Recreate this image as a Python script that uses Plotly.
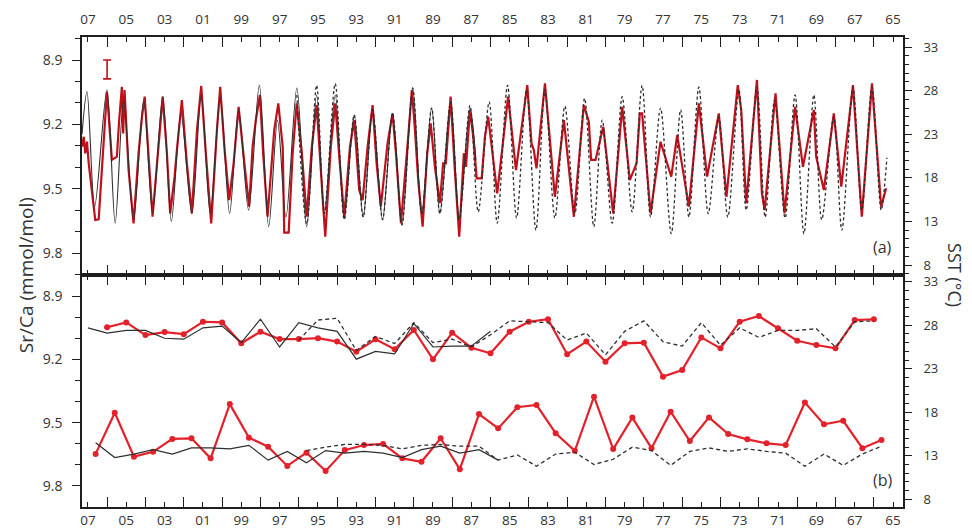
import plotly.graph_objects as go

# ---------------- data: panel (a), monthly-resolution turning points ----------------
red_top_year = [2007.31, 2007.22, 2007.14, 2007.05, 2006.96, 2006.62, 2006.44, 2006.01, 2005.75, 2005.49,
                2005.37, 2005.23, 2005.16, 2005.09, 2004.88, 2004.62, 2004.36, 2004.18, 2004.04, 2003.83,
                2003.63, 2003.10, 2002.88, 2002.71, 2002.48, 2002.36, 2002.10, 2001.84, 2001.58, 2001.31,
                2001.09, 2000.85, 2000.57, 2000.27, 2000.10, 1999.87, 1999.63, 1999.40, 1999.14, 1998.83,
                1998.59, 1998.41, 1998.24, 1998.03, 1997.86, 1997.63, 1997.28, 1997.07, 1996.84, 1996.76,
                1996.53, 1996.32, 1996.11, 1995.84, 1995.59, 1995.32, 1995.07, 1994.85, 1994.62, 1994.33,
                1994.10, 1993.86, 1993.63, 1993.33, 1993.11, 1992.85, 1992.67, 1992.41, 1992.15, 1991.94,
                1991.72, 1991.37, 1991.11, 1990.93, 1990.67, 1990.32, 1990.10, 1989.94, 1989.77, 1989.54,
                1989.30, 1989.12, 1988.90, 1988.64, 1988.47, 1988.33, 1988.08, 1987.86, 1987.63, 1987.39,
                1987.28, 1987.07, 1986.90, 1986.72, 1986.46, 1986.29, 1986.12, 1985.65, 1985.08, 1984.67,
                1984.08, 1983.86, 1983.74, 1983.60, 1983.16, 1982.64, 1982.17, 1981.65, 1981.13, 1980.87,
                1980.75, 1980.52, 1980.12, 1979.60, 1979.13, 1978.73, 1978.38, 1978.21, 1978.09, 1977.65,
                1977.13, 1976.57, 1976.26, 1975.65, 1975.13, 1974.70, 1974.09, 1973.69, 1973.10, 1972.92,
                1972.66, 1972.10, 1971.84, 1971.70, 1971.13, 1970.66, 1970.11, 1969.70, 1969.13, 1969.01,
                1968.61, 1968.09, 1967.70, 1967.09, 1966.63, 1966.10, 1965.62, 1965.36]
red_top_srca = [9.304, 9.258, 9.335, 9.281, 9.382, 9.646, 9.643, 9.048, 9.366, 9.351,
                9.180, 9.025, 9.242, 9.040, 9.413, 9.662, 9.335, 9.164, 9.071, 9.351,
                9.631, 9.071, 9.335, 9.615, 9.444, 9.320, 9.087, 9.382, 9.615, 9.226,
                9.021, 9.335, 9.662, 9.226, 9.025, 9.320, 9.553, 9.382, 9.118, 9.390,
                9.584, 9.304, 9.180, 9.063, 9.335, 9.631, 9.226, 9.102, 9.304, 9.705,
                9.705, 9.335, 9.102, 9.335, 9.631, 9.304, 9.110, 9.413, 9.724, 9.304,
                9.102, 9.382, 9.631, 9.304, 9.180, 9.506, 9.553, 9.304, 9.110, 9.382,
                9.584, 9.289, 9.149, 9.335, 9.662, 9.289, 9.040, 9.226, 9.460, 9.677,
                9.335, 9.195, 9.398, 9.568, 9.382, 9.382, 9.071, 9.413, 9.724, 9.335,
                9.398, 9.133, 9.258, 9.452, 9.452, 9.258, 9.164, 9.522, 9.071, 9.413,
                9.017, 9.289, 9.320, 9.405, 9.009, 9.538, 9.180, 9.631, 9.110, 9.188,
                9.366, 9.366, 9.211, 9.615, 9.118, 9.460, 9.382, 9.149, 9.149, 9.615,
                9.281, 9.444, 9.250, 9.584, 9.102, 9.444, 9.149, 9.538, 9.017, 9.133,
                9.568, 8.993, 9.522, 9.600, 9.055, 9.615, 9.118, 9.398, 9.133, 9.351,
                9.506, 9.149, 9.491, 9.017, 9.631, 9.009, 9.584, 9.498]

sst1_top_year = [2007.31, 2007.05, 2006.65, 2006.01, 2005.58, 2005.14, 2004.62, 2004.09, 2003.63, 2003.10,
                 2002.65, 2002.15, 2001.58, 2001.09, 2000.62, 2000.10, 1999.61, 1999.14, 1998.62, 1998.06,
                 1997.57, 1997.11, 1996.67, 1996.10, 1995.59, 1995.07, 1994.67, 1994.10, 1993.63, 1993.11,
                 1992.64, 1992.15, 1991.63, 1991.11, 1990.62, 1990.06, 1989.59, 1989.07, 1988.64, 1988.08,
                 1987.63, 1987.07, 1986.76]
sst1_top = [23.0, 27.9, 14.7, 28.1, 12.8, 26.9, 13.2, 26.9, 14.0, 27.3,
            13.0, 25.4, 13.9, 27.5, 13.9, 27.3, 13.9, 25.8, 14.3, 28.6,
            12.4, 24.6, 13.5, 28.3, 12.4, 27.5, 13.9, 27.5, 13.4, 25.2,
            13.5, 25.8, 13.2, 25.4, 12.6, 28.3, 13.9, 26.0, 13.9, 26.7,
            13.4, 26.0, 20.0]

sst2_top_year = [1996.10, 1995.59, 1995.07, 1994.67, 1994.10, 1993.63, 1993.11, 1992.64, 1992.15, 1991.63,
                 1991.11, 1990.62, 1990.06, 1989.59, 1989.07, 1988.64, 1988.08, 1987.63, 1987.07, 1986.64,
                 1986.07, 1985.65, 1985.11, 1984.64, 1984.12, 1983.63, 1983.16, 1982.64, 1982.12, 1981.60,
                 1981.09, 1980.61, 1980.17, 1979.65, 1979.13, 1978.61, 1978.09, 1977.65, 1977.13, 1976.57,
                 1976.08, 1975.65, 1975.13, 1974.64, 1974.09, 1973.62, 1973.04, 1972.66, 1972.10, 1971.67,
                 1971.18, 1970.63, 1970.11, 1969.65, 1969.13, 1968.72, 1968.09, 1967.67, 1967.09, 1966.63,
                 1966.10, 1965.62, 1965.32]
sst2_top = [27.5, 12.7, 28.6, 13.9, 28.8, 13.2, 25.2, 13.5, 25.8, 13.2,
            25.4, 12.6, 28.3, 13.9, 26.0, 13.9, 26.7, 13.2, 26.3, 14.1,
            26.7, 12.8, 28.6, 13.4, 28.1, 12.0, 28.1, 13.4, 26.2, 13.9,
            27.1, 12.4, 24.6, 12.8, 27.3, 14.1, 28.6, 13.5, 26.0, 11.6,
            25.8, 13.5, 28.4, 13.9, 25.0, 13.5, 28.1, 14.3, 28.4, 13.5,
            26.9, 13.4, 27.5, 11.6, 27.5, 13.2, 25.0, 12.0, 28.4, 14.3,
            28.4, 14.3, 20.3]

# analytical error bar (panel a)
err_year = [2006.0]
err_srca = [8.944]
err_half = [0.044]

# ---------------- data: panel (b), annual extremes ----------------
summer_years = list(range(2006, 1965, -1))               # 2006 ... 1966
winter_years = [y + 0.6 for y in range(2006, 1964, -1)]  # 2006.6 ... 1965.6
red_summer = [9.048, 9.025, 9.085, 9.071, 9.081, 9.022, 9.025, 9.124, 9.069, 9.104,
              9.104, 9.100, 9.116, 9.164, 9.105, 9.152, 9.061, 9.200, 9.074, 9.145,
              9.171, 9.069, 9.022, 9.010, 9.176, 9.116, 9.211, 9.124, 9.121, 9.282,
              9.251, 9.096, 9.148, 9.022, 8.995, 9.053, 9.112, 9.132, 9.148, 9.014, 9.010]
red_winter = [9.648, 9.453, 9.661, 9.638, 9.577, 9.574, 9.669, 9.412, 9.571, 9.614,
              9.705, 9.642, 9.729, 9.630, 9.606, 9.601, 9.669, 9.685, 9.574, 9.721,
              9.459, 9.527, 9.427, 9.416, 9.550, 9.633, 9.377, 9.625, 9.476, 9.621,
              9.448, 9.587, 9.475, 9.554, 9.579, 9.598, 9.606, 9.405, 9.508, 9.491,
              9.621, 9.582]

sst1_summer_years = list(range(2007, 1985, -1))          # 2007 ... 1986
sst1_summer = [27.7, 27.1, 27.4, 27.4, 26.5, 26.4, 27.7, 27.9, 26.0, 28.7, 25.5,
               28.3, 27.7, 27.3, 24.1, 25.0, 24.7, 28.2, 25.5, 25.6, 25.6, 27.3]
sst1_winter_years = [y + 0.6 for y in range(2006, 1984, -1)]  # 2006.6 ... 1985.6
sst1_winter = [14.5, 12.8, 13.2, 13.7, 13.2, 13.9, 13.9, 13.8, 14.2, 12.5, 13.5,
               12.2, 13.6, 13.3, 13.5, 13.3, 12.8, 13.7, 14.1, 13.3, 13.7, 12.5]

sst2_summer_years = list(range(1996, 1965, -1))          # 1996 ... 1966
sst2_summer = [26.3, 28.6, 28.8, 25.1, 26.7, 25.9, 28.3, 26.0, 26.4, 25.5, 26.9,
               28.5, 28.4, 28.3, 26.3, 27.1, 24.6, 27.3, 28.5, 26.1, 25.6, 28.3,
               25.7, 27.7, 26.6, 27.4, 27.4, 27.6, 25.5, 28.4, 28.5]
sst2_winter_years = [y + 0.6 for y in range(1995, 1964, -1)]  # 1995.6 ... 1965.6
sst2_winter = [13.6, 14.0, 14.3, 14.3, 14.2, 13.8, 14.2, 14.3, 14.1, 14.1, 12.5,
               13.1, 11.8, 13.2, 13.4, 12.0, 12.6, 14.0, 13.6, 11.9, 13.5, 13.9,
               13.5, 13.8, 13.5, 13.3, 11.8, 13.2, 11.9, 13.2, 14.1]

# ---------------- axes labels ----------------
label_years = list(range(2007, 1964, -2))
label_text = ["%02d" % (y % 100) for y in label_years]
long_tick_years = list(range(2006, 1965, -2))
srca_ticks = [8.9, 9.2, 9.5, 9.8]
sst_ticks = [8, 13, 18, 23, 28, 33]

# ---------------- styling ----------------
FONT = "Open Sans, Noto Sans, sans-serif"
RED_A = "#bf111c"
RED_B = "#e3212a"
BLK = "#2e2e2e"
AX = "#1e1e1e"
XRANGE = [2007.31, 1964.48]
SPLIT = 0.4936

fig = go.Figure()

# panel (a)
fig.add_trace(go.Scatter(x=sst2_top_year, y=sst2_top, xaxis="x", yaxis="y2", mode="lines",
                         line=dict(color=BLK, width=1.3, dash="3px,2.5px", shape="spline", smoothing=0.9),
                         hoverinfo="skip", showlegend=False))
fig.add_trace(go.Scatter(x=sst1_top_year, y=sst1_top, xaxis="x", yaxis="y2", mode="lines",
                         line=dict(color=BLK, width=1.1, shape="spline", smoothing=0.9),
                         hoverinfo="skip", showlegend=False))
fig.add_trace(go.Scatter(x=red_top_year, y=red_top_srca, xaxis="x", yaxis="y", mode="lines",
                         line=dict(color=RED_A, width=2.2), showlegend=False))
fig.add_trace(go.Scatter(x=err_year, y=err_srca, xaxis="x", yaxis="y", mode="markers",
                         marker=dict(size=1, color=RED_A),
                         error_y=dict(type="data", array=err_half, color=RED_A, thickness=1.6, width=4),
                         showlegend=False))

# panel (b)
for xs, ys, dash, w in [(sst2_summer_years, sst2_summer, "4px,3px", 1.3),
                        (sst2_winter_years, sst2_winter, "4px,3px", 1.3),
                        (sst1_summer_years, sst1_summer, "solid", 1.2),
                        (sst1_winter_years, sst1_winter, "solid", 1.2)]:
    fig.add_trace(go.Scatter(x=xs, y=ys, xaxis="x2", yaxis="y4", mode="lines",
                             line=dict(color=BLK, width=w, dash=dash), showlegend=False))
for xs, ys in [(summer_years, red_summer), (winter_years, red_winter)]:
    fig.add_trace(go.Scatter(x=xs, y=ys, xaxis="x2", yaxis="y3", mode="lines+markers",
                             line=dict(color=RED_B, width=2.2),
                             marker=dict(color=RED_B, size=6), showlegend=False))

tickfont = dict(family=FONT, size=14, color="#333333")
tickfont_x = dict(family=FONT, size=13.5, color="#333333")
tickfont_r = dict(family=FONT, size=13, color="#333333")

def xaxis_cfg(side, anchor, standoff):
    return dict(domain=[0, 1], anchor=anchor, range=XRANGE, side=side, automargin=False,
                tickmode="array", tickvals=label_years, ticktext=label_text,
                ticks="inside", ticklen=5, tickwidth=1.3, tickcolor=AX,
                minor=dict(tickmode="array", tickvals=long_tick_years, ticks="inside",
                           ticklen=10, tickwidth=1.3, tickcolor=AX, showgrid=False),
                showline=True, linecolor=AX, linewidth=1.6, mirror="allticks",
                showgrid=False, zeroline=False, tickfont=tickfont_x, ticklabelstandoff=standoff)

def yleft_cfg(domain, anchor, rng):
    return dict(domain=domain, anchor=anchor, range=rng, side="left", automargin=False,
                tickmode="array", tickvals=srca_ticks, ticktext=["%.1f" % v for v in srca_ticks],
                ticks="outside", ticklen=8, tickwidth=1.3, tickcolor=AX,
                minor=dict(dtick=0.1, tick0=8.9, ticks="outside", ticklen=5, tickwidth=1.2,
                           tickcolor=AX, showgrid=False),
                showline=True, linecolor=AX, linewidth=1.6,
                showgrid=False, zeroline=False, tickfont=tickfont, ticklabelstandoff=7)

def yright_cfg(overlay, anchor, rng):
    return dict(overlaying=overlay, anchor=anchor, range=rng, side="right", automargin=False,
                tickmode="array", tickvals=sst_ticks, ticktext=[str(v) for v in sst_ticks],
                ticks="outside", ticklen=7, tickwidth=1.3, tickcolor=AX,
                minor=dict(dtick=1, tick0=8, ticks="outside", ticklen=4, tickwidth=1.2,
                           tickcolor=AX, showgrid=False),
                showline=True, linecolor=AX, linewidth=1.6,
                showgrid=False, zeroline=False, tickfont=tickfont_r, ticklabelstandoff=9)

# The page body keeps the browser's default 8px margin, so the figure is 8px smaller
# and the left/top margins are 8px narrower; the plot area lands at x 82-903, y 37-507.
fig.update_layout(
    width=964, height=520,
    margin=dict(l=74, r=69, t=29, b=21, autoexpand=False),
    paper_bgcolor="white", plot_bgcolor="white",
    font=dict(family=FONT, color="#333333"),
    showlegend=False,
    xaxis=xaxis_cfg("top", "y", 6),
    xaxis2=xaxis_cfg("bottom", "y3", 0),
    yaxis=yleft_cfg([SPLIT, 1], "x", [9.9026, 8.7927]),
    yaxis2=yright_cfg("y", "x", [6.853, 34.147]),
    yaxis3=yleft_cfg([0, SPLIT], "x2", [9.8995, 8.8005]),
    yaxis4=yright_cfg("y3", "x2", [7.115, 33.77]),
    annotations=[
        dict(text="Sr/Ca (mmol/mol)", xref="paper", yref="paper", x=-0.068, y=0.4936,
             showarrow=False, textangle=-90, xanchor="center", yanchor="middle",
             font=dict(family=FONT, size=19, color="#333333")),
        dict(text="SST (°C)", xref="paper", yref="paper", x=1.0633, y=0.4936,
             showarrow=False, textangle=90, xanchor="center", yanchor="middle",
             font=dict(family=FONT, size=18, color="#333333")),
        dict(text="(a)", xref="paper", yref="paper", x=0.9756, y=0.5532,
             showarrow=False, xanchor="center", yanchor="middle",
             font=dict(family=FONT, size=16, color="#333333")),
        dict(text="(b)", xref="paper", yref="paper", x=0.9756, y=0.0574,
             showarrow=False, xanchor="center", yanchor="middle",
             font=dict(family=FONT, size=16, color="#333333")),
    ],
)

fig.write_html("out.html")
